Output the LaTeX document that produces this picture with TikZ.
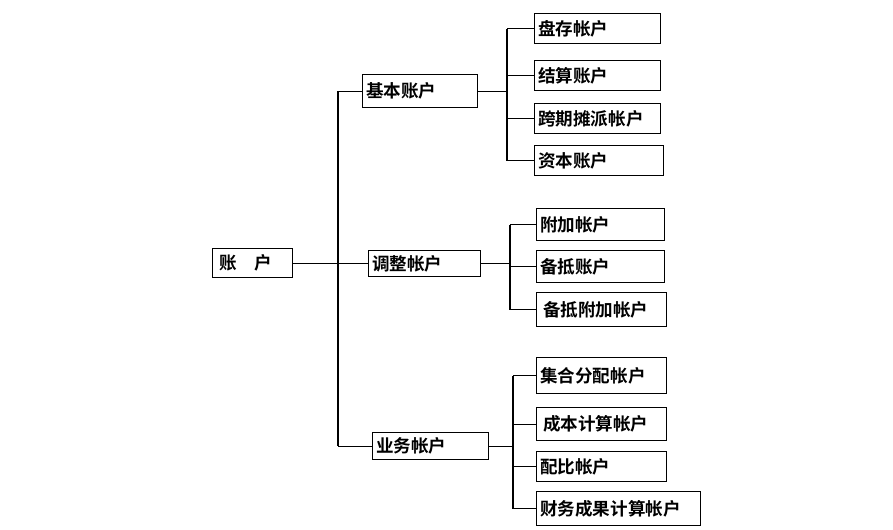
\documentclass[tikz,border=0pt]{standalone}
\usepackage{fontspec}
\newfontfamily\cjk{Noto Sans CJK SC}[BoldFont={Noto Sans CJK SC Bold}]
\usetikzlibrary{positioning}
\tikzset{acct/.style 2 args={draw,thick,anchor=north west,inner sep=2pt,align=left,
    font=\cjk\bfseries\fontsize{10}{12}\selectfont,minimum height=#1,text width=#2},
  branch/.style={thick}}
\begin{document}
\begin{tikzpicture}[x=0.02cm,y=-0.02cm]
\useasboundingbox (0,0) rectangle (893,529);
% root
\node[acct={0.58cm}{1.46cm}] (root) at (212,248) {\,账\quad 户};
% second level
\node[acct={0.66cm}{2.16cm}] (basic) at (362,74) {基本账户};
\node[acct={0.52cm}{2.1cm}] (adjust) at (368,250) {调整帐户};
\node[acct={0.54cm}{2.18cm}] (biz) at (372,432) {业务帐户};
% leaves
\node[acct={0.6cm}{2.38cm}] (a1) at (534,13) {盘存帐户};
\node[acct={0.6cm}{2.38cm}] (a2) at (534,60) {结算账户};
\node[acct={0.6cm}{2.38cm}] (a3) at (534,103) {跨期摊派帐户};
\node[acct={0.6cm}{2.44cm}] (a4) at (534,145) {资本账户};
\node[acct={0.64cm}{2.42cm}] (b1) at (536,208) {附加帐户};
\node[acct={0.64cm}{2.42cm}] (b2) at (536,250) {备抵账户};
\node[acct={0.68cm}{2.46cm}] (b3) at (536,292) {\,备抵附加帐户};
\node[acct={0.72cm}{2.46cm}] (c1) at (536,357) {集合分配帐户};
\node[acct={0.66cm}{2.46cm}] (c2) at (536,407) {\,成本计算帐户};
\node[acct={0.6cm}{2.46cm}] (c3) at (536,451) {配比帐户};
\node[acct={0.68cm}{3.14cm}] (c4) at (536,491) {财务成果计算帐户};
% trunk
\coordinate (t) at (338,0);
\draw[branch] (root.east) -- (root.east -| t);
\draw[branch] (basic.west -| t) -- (biz.west -| t);
\foreach \n in {basic,adjust,biz}
  \draw[branch] (\n.west -| t) -- (\n.west);
% groups
\foreach \p/\x/\f/\l in {basic/507/a1/a4,adjust/510/b1/b3,biz/513/c1/c4}{
  \coordinate (g) at (\x,0);
  \draw[branch] (\p.east) -- (\p.east -| g);
  \draw[branch] (\f.west -| g) -- (\l.west -| g);
}
\foreach \n in {a1,a2,a3,a4}{\coordinate (g) at (507,0); \draw[branch] (\n.west -| g) -- (\n.west);}
\foreach \n in {b1,b2,b3}{\coordinate (g) at (510,0); \draw[branch] (\n.west -| g) -- (\n.west);}
\foreach \n in {c1,c2,c3,c4}{\coordinate (g) at (513,0); \draw[branch] (\n.west -| g) -- (\n.west);}
\end{tikzpicture}
\end{document}
